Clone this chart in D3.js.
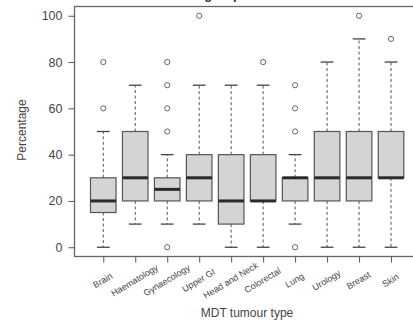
<!DOCTYPE html>
<html>
<head>
<meta charset="utf-8">
<script src="https://cdn.jsdelivr.net/npm/d3@7"></script>
<style>
  body { margin: 0; background: #fff; }
  svg { display: block; font-family: "Liberation Sans", Arial, sans-serif; }
</style>
</head>
<body>
<svg id="chart" width="413" height="325"></svg>
<script>
// Data (percentages per MDT tumour type)
//------------------------------------
var categories = ["Brain", "Haematology", "Gynaecology", "Upper GI", "Head and Neck",
                  "Colorectal", "Lung", "Urology", "Breast", "Skin"];
var whiskerLow  = [0, 10, 10, 10, 0, 0, 10, 0, 0, 0];
var q1          = [15, 20, 20, 20, 10, 20, 20, 20, 20, 30];
var medians     = [20, 30, 25, 30, 20, 20, 30, 30, 30, 30];
var q3          = [30, 50, 30, 40, 40, 40, 30, 50, 50, 50];
var whiskerHigh = [50, 70, 40, 70, 70, 70, 40, 80, 90, 80];
var outliers    = [[60, 80], [], [0, 50, 60, 70, 80], [100], [], [80], [0, 50, 60, 70], [], [100], [90]];
var yTicks = [0, 20, 40, 60, 80, 100];

var svg = d3.select("#chart");
var ink = "#444";

// R-style scales: categories at 1..10, range padded by 4%
var x = d3.scaleLinear().domain([0.1, 10.9]).range([74.5, 419.8]);
var y = d3.scaleLinear().domain([-4, 104]).range([256.5, 6.5]);
var boxW = (x(1) - x(0)) * 0.8;
var capW = boxW / 2;

var boxes = categories.map(function (c, i) {
    return { name: c, pos: i + 1, lo: whiskerLow[i], q1: q1[i], med: medians[i],
             q3: q3[i], hi: whiskerHigh[i], out: outliers[i] };
});

// title (cut off at the top of the picture, only descenders show)
svg.append("text")
    .attr("x", 241).attr("y", -1)
    .attr("text-anchor", "end")
    .attr("font-size", 13).attr("font-weight", "bold")
    .attr("fill", "#333")
    .text("MDT tumour group");

var g = svg.selectAll("g.box").data(boxes).enter().append("g").attr("class", "box");

// whiskers
g.append("line")
    .attr("x1", function (d) { return x(d.pos); }).attr("x2", function (d) { return x(d.pos); })
    .attr("y1", function (d) { return y(d.q3); }).attr("y2", function (d) { return y(d.hi); })
    .attr("stroke", "#555").attr("stroke-dasharray", "3,2.5");
g.append("line")
    .attr("x1", function (d) { return x(d.pos); }).attr("x2", function (d) { return x(d.pos); })
    .attr("y1", function (d) { return y(d.q1); }).attr("y2", function (d) { return y(d.lo); })
    .attr("stroke", "#555").attr("stroke-dasharray", "3,2.5");
// staples
["lo", "hi"].forEach(function (k) {
    g.append("line")
        .attr("x1", function (d) { return x(d.pos) - capW / 2; })
        .attr("x2", function (d) { return x(d.pos) + capW / 2; })
        .attr("y1", function (d) { return y(d[k]); }).attr("y2", function (d) { return y(d[k]); })
        .attr("stroke", "#444").attr("stroke-width", 1.3);
});

// boxes
g.append("rect")
    .attr("x", function (d) { return x(d.pos) - boxW / 2; })
    .attr("width", boxW)
    .attr("y", function (d) { return y(d.q3); })
    .attr("height", function (d) { return y(d.q1) - y(d.q3); })
    .attr("fill", "#d4d4d4").attr("stroke", "#555").attr("stroke-width", 1.2);

// medians
g.append("line")
    .attr("x1", function (d) { return x(d.pos) - boxW / 2; })
    .attr("x2", function (d) { return x(d.pos) + boxW / 2; })
    .attr("y1", function (d) { return y(d.med); }).attr("y2", function (d) { return y(d.med); })
    .attr("stroke", "#2a2a2a").attr("stroke-width", 3);

// outliers
g.selectAll("circle")
    .data(function (d) { return d.out.map(function (v) { return { pos: d.pos, v: v }; }); })
    .enter().append("circle")
    .attr("cx", function (d) { return x(d.pos); })
    .attr("cy", function (d) { return y(d.v); })
    .attr("r", 2.6)
    .attr("fill", "none").attr("stroke", "#666").attr("stroke-width", 1);

// frame
svg.append("rect")
    .attr("x", x(0.1)).attr("y", y(104))
    .attr("width", x(10.9) - x(0.1)).attr("height", y(-4) - y(104))
    .attr("fill", "none").attr("stroke", "#666").attr("stroke-width", 1.3);

// y axis
var yAxis = svg.append("g").attr("transform", "translate(" + x(0.1) + ",0)")
    .call(d3.axisLeft(y).tickValues(yTicks).tickSize(6).tickPadding(6));
yAxis.select(".domain").remove();
yAxis.selectAll("line").attr("stroke", "#555");
yAxis.selectAll("text").attr("font-size", 12.5).attr("fill", ink)
    .attr("font-family", "Liberation Sans, Arial, sans-serif");

// x axis
var xAxis = svg.append("g").attr("transform", "translate(0," + y(-4) + ")")
    .call(d3.axisBottom(x).tickValues(d3.range(1, categories.length + 1)).tickSize(6).tickFormat(""));
xAxis.select(".domain").remove();
xAxis.selectAll("line").attr("stroke", "#555");

svg.selectAll("text.cat").data(boxes).enter().append("text")
    .attr("class", "cat")
    .attr("text-anchor", "middle")
    .attr("font-size", 9).attr("fill", ink)
    .attr("transform", function (d) { return "translate(" + (x(d.pos) + 1) + ",283) rotate(-31)"; })
    .text(function (d) { return d.name; });

// axis titles
svg.append("text")
    .attr("transform", "translate(26,130) rotate(-90)")
    .attr("text-anchor", "middle").attr("font-size", 12).attr("fill", ink)
    .text("Percentage");
svg.append("text")
    .attr("x", 247).attr("y", 317)
    .attr("text-anchor", "middle").attr("font-size", 12).attr("fill", ink)
    .text("MDT tumour type");
</script>
</body>
</html>
